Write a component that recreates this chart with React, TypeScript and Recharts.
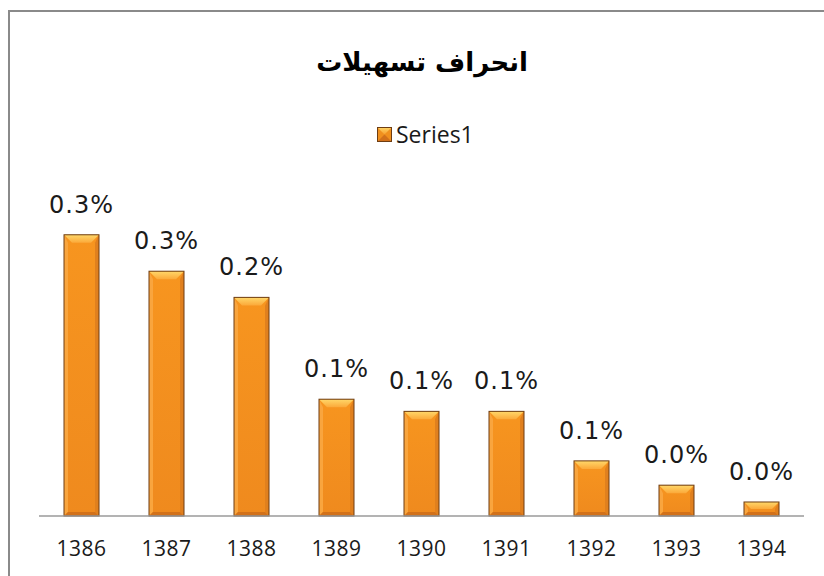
import { BarChart, Bar, XAxis, YAxis, LabelList } from 'recharts'

const years = ['1386', '1387', '1388', '1389', '1390', '1391', '1392', '1393', '1394']
const series1 = [0.301, 0.262, 0.234, 0.125, 0.112, 0.112, 0.059, 0.033, 0.015]

const title = 'انحراف تسهیلات'
const seriesName = 'Series1'

const data = years.map((y, i) => ({ year: y, value: series1[i] }))

// beveled bar like the excel "bevel" preset
function BevelBar(props: any) {
  const { x, y, width: w, height: h } = props
  if (!h || h <= 0) return null
  const b = Math.min(8, h / 2)
  const s = Math.min(4, h / 2)
  return (
    <g>
      <rect x={x} y={y} width={w} height={h} fill="url(#faceGrad)" />
      <polygon points={`${x},${y} ${x + s},${y + b} ${x + s},${y + h - s} ${x},${y + h}`} fill="#f9a53e" />
      <polygon points={`${x + w},${y} ${x + w},${y + h} ${x + w - s},${y + h - s} ${x + w - s},${y + b}`} fill="#e0801e" />
      <polygon points={`${x},${y + h} ${x + s},${y + h - s} ${x + w - s},${y + h - s} ${x + w},${y + h}`} fill="#d2711a" />
      <polygon points={`${x},${y} ${x + w},${y} ${x + w - b},${y + b} ${x + b},${y + b}`} fill="url(#topGrad)" />
      <rect x={x} y={y} width={w} height={h} fill="none" stroke="#6e3d12" strokeWidth={1} />
    </g>
  )
}

function ValueLabel(props: any) {
  const { x, y, width, value } = props
  return (
    <text
      x={x + width / 2}
      y={y - 22}
      textAnchor="middle"
      fontFamily="DejaVu Sans"
      fontSize={24}
      letterSpacing={1}
      fill="#1a1a1a"
    >
      {`${Number(value).toFixed(1)}%`}
    </text>
  )
}

function YearTick(props: any) {
  const { x, y, payload } = props
  return (
    <text x={x} y={y + 38} textAnchor="middle" fontFamily="Open Sans" fontSize={21} letterSpacing={0.5} fill="#1a1a1a">
      {payload.value}
    </text>
  )
}

export default function App() {
  return (
    <div
      style={{
        position: 'absolute',
        left: 8,
        top: 10,
        width: 816,
        height: 566,
        borderTop: '2px solid #8a8a8a',
        borderLeft: '2px solid #8a8a8a',
        boxSizing: 'border-box',
        background: '#fff',
      }}
    >
      <div
        dir="rtl"
        style={{
          position: 'absolute',
          left: 0,
          top: 30,
          width: 824,
          lineHeight: '40px',
          textAlign: 'center',
          fontFamily: 'DejaVu Sans',
          fontWeight: 'bold',
          fontSize: 26,
          color: '#000',
        }}
      >
        {title}
      </div>
      <div
        style={{
          position: 'absolute',
          left: 367,
          top: 106,
          display: 'flex',
          alignItems: 'center',
          fontFamily: 'Open Sans',
          fontSize: 23,
          color: '#1a1a1a',
        }}
      >
        <svg width={15} height={15} style={{ marginRight: 4 }}>
          <defs>
            <linearGradient id="legTop" x1="0" y1="0" x2="0" y2="1">
              <stop offset="0%" stopColor="#ffd868" />
              <stop offset="100%" stopColor="#f7a030" />
            </linearGradient>
          </defs>
          <rect x={0} y={0} width={15} height={15} fill="#f0901e" />
          <polygon points="0,0 15,0 7.5,7.5" fill="url(#legTop)" />
          <polygon points="0,15 7.5,7.5 15,15" fill="#d2711a" />
          <rect x={0.5} y={0.5} width={14} height={14} fill="none" stroke="#6e3d12" />
        </svg>
        <span>{seriesName}</span>
      </div>
      <BarChart
        width={814}
        height={564}
        data={data}
        margin={{ top: 177, right: 20, left: 29, bottom: 0 }}
        barSize={35}
      >
        <defs>
          <linearGradient id="faceGrad" x1="0" y1="0" x2="0" y2="1">
            <stop offset="0%" stopColor="#f7951f" />
            <stop offset="100%" stopColor="#ef8a1e" />
          </linearGradient>
          <linearGradient id="topGrad" x1="0" y1="0" x2="0" y2="1">
            <stop offset="0%" stopColor="#ffd86a" />
            <stop offset="100%" stopColor="#fba93a" />
          </linearGradient>
        </defs>
        <XAxis
          dataKey="year"
          height={60}
          axisLine={{ stroke: '#9a9a9a', strokeWidth: 1.5 }}
          tickLine={false}
          tickSize={0}
          tick={<YearTick />}
          interval={0}
        />
        <YAxis hide domain={[0, 0.35]} />
        <Bar dataKey="value" shape={<BevelBar />} isAnimationActive={false}>
          <LabelList dataKey="value" content={<ValueLabel />} />
        </Bar>
      </BarChart>
    </div>
  )
}
